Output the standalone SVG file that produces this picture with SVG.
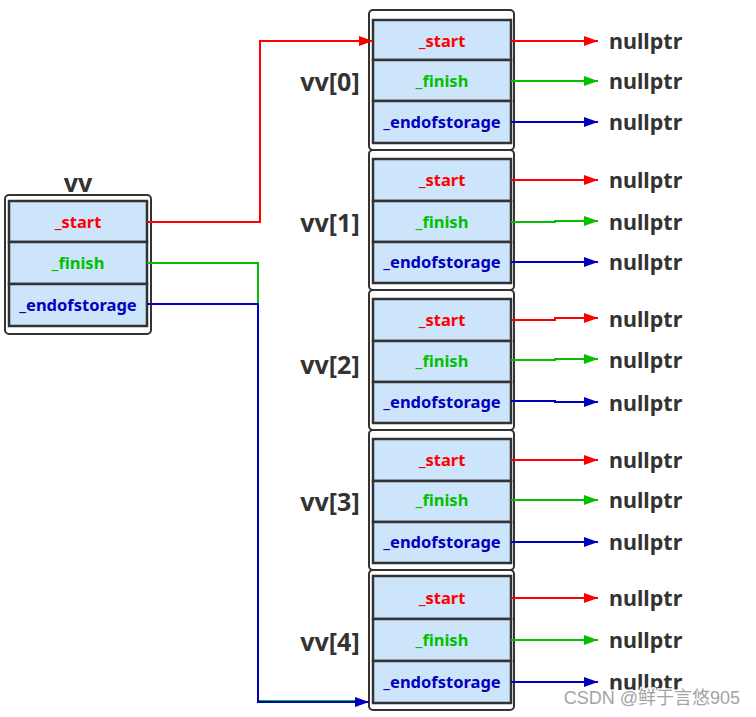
<svg xmlns="http://www.w3.org/2000/svg" width="756" height="717" viewBox="0 0 756 717">
<defs>
<style>
.outer{fill:#fff;stroke:#333;stroke-width:2}
.cell{fill:#cce5fb;stroke:#333;stroke-width:2.5}
.f{font-family:"Noto Sans","Open Sans","DejaVu Sans",sans-serif;font-weight:bold;text-anchor:middle}
.s{fill:#ff0000;font-size:16.5px}
.g{fill:#00c000;font-size:16.5px}
.b{fill:#0000c0;font-size:16.5px}
.lbl{fill:#333;font-size:25px}
.np{fill:#333;font-size:21.5px;text-anchor:start}
.r{stroke:#ff0000;stroke-width:2;fill:none}
.gr{stroke:#00c000;stroke-width:2;fill:none}
.bl{stroke:#0000c0;stroke-width:2;fill:none}
</style>
<marker id="ar" viewBox="0 0 14 10" refX="14" refY="5" markerWidth="14" markerHeight="10" markerUnits="userSpaceOnUse" orient="auto"><path d="M0,0 L14,5 L0,10 Z" fill="#ff0000"/></marker>
<marker id="ag" viewBox="0 0 14 10" refX="14" refY="5" markerWidth="14" markerHeight="10" markerUnits="userSpaceOnUse" orient="auto"><path d="M0,0 L14,5 L0,10 Z" fill="#00c000"/></marker>
<marker id="ab" viewBox="0 0 14 10" refX="14" refY="5" markerWidth="14" markerHeight="10" markerUnits="userSpaceOnUse" orient="auto"><path d="M0,0 L14,5 L0,10 Z" fill="#0000c0"/></marker>
</defs>
<rect width="756" height="717" fill="#fff"/>

<g id="vv">
<text class="f lbl" x="78" y="192">vv</text>
<rect class="outer" x="5" y="195" width="146" height="139" rx="4"/>
<rect class="cell" x="9" y="201" width="138" height="41"/>
<rect class="cell" x="9" y="242" width="138" height="42"/>
<rect class="cell" x="9" y="284" width="138" height="42"/>
<text class="f s" x="78" y="228">_start</text>
<text class="f g" x="78" y="269">_finish</text>
<text class="f b" x="78" y="311">_endofstorage</text>
</g>

<g id="vv0">
<rect class="outer" x="369" y="10" width="145" height="140" rx="4"/>
<rect class="cell" x="373" y="20" width="138" height="40"/>
<rect class="cell" x="373" y="60" width="138" height="41"/>
<rect class="cell" x="373" y="101" width="138" height="42"/>
<text class="f s" x="442" y="47">_start</text>
<text class="f g" x="442" y="87">_finish</text>
<text class="f b" x="442" y="128">_endofstorage</text>
<text class="f lbl" x="330" y="91">vv[0]</text>
</g>

<g id="vv1">
<rect class="outer" x="369" y="150" width="145" height="140" rx="4"/>
<rect class="cell" x="373" y="159" width="138" height="42"/>
<rect class="cell" x="373" y="201" width="138" height="41"/>
<rect class="cell" x="373" y="242" width="138" height="41"/>
<text class="f s" x="442" y="186">_start</text>
<text class="f g" x="442" y="228">_finish</text>
<text class="f b" x="442" y="268">_endofstorage</text>
<text class="f lbl" x="330" y="232">vv[1]</text>
</g>

<g id="vv2">
<rect class="outer" x="369" y="290" width="145" height="140" rx="4"/>
<rect class="cell" x="373" y="299" width="138" height="42"/>
<rect class="cell" x="373" y="341" width="138" height="41"/>
<rect class="cell" x="373" y="382" width="138" height="41"/>
<text class="f s" x="442" y="326">_start</text>
<text class="f g" x="442" y="367">_finish</text>
<text class="f b" x="442" y="408">_endofstorage</text>
<text class="f lbl" x="330" y="374">vv[2]</text>
</g>

<g id="vv3">
<rect class="outer" x="369" y="430" width="145" height="140" rx="4"/>
<rect class="cell" x="373" y="439" width="138" height="42"/>
<rect class="cell" x="373" y="481" width="138" height="41"/>
<rect class="cell" x="373" y="522" width="138" height="41"/>
<text class="f s" x="442" y="466">_start</text>
<text class="f g" x="442" y="506">_finish</text>
<text class="f b" x="442" y="548">_endofstorage</text>
<text class="f lbl" x="330" y="511">vv[3]</text>
</g>

<g id="vv4">
<rect class="outer" x="369" y="570" width="145" height="140" rx="4"/>
<rect class="cell" x="373" y="576" width="138" height="43"/>
<rect class="cell" x="373" y="619" width="138" height="42"/>
<rect class="cell" x="373" y="661" width="138" height="42"/>
<text class="f s" x="442" y="604">_start</text>
<text class="f g" x="442" y="646">_finish</text>
<text class="f b" x="442" y="688">_endofstorage</text>
<text class="f lbl" x="330" y="651">vv[4]</text>
</g>

<g id="nulls">
<text class="f np" x="609" y="49">nullptr</text>
<text class="f np" x="609" y="89">nullptr</text>
<text class="f np" x="609" y="130">nullptr</text>
<text class="f np" x="609" y="188">nullptr</text>
<text class="f np" x="609" y="230">nullptr</text>
<text class="f np" x="609" y="270">nullptr</text>
<text class="f np" x="609" y="327">nullptr</text>
<text class="f np" x="609" y="368">nullptr</text>
<text class="f np" x="609" y="411">nullptr</text>
<text class="f np" x="609" y="468">nullptr</text>
<text class="f np" x="609" y="508">nullptr</text>
<text class="f np" x="609" y="550">nullptr</text>
<text class="f np" x="609" y="606">nullptr</text>
<text class="f np" x="609" y="648">nullptr</text>
<text class="f np" x="609" y="690">nullptr</text>
</g>

<g id="connectors">
<polyline class="r" points="147,222 260,222 260,41 373,41" marker-end="url(#ar)"/>
<polyline class="gr" points="147,263 258,263 258,701 360,701"/>
<polyline class="bl" points="147,304 258,304 258,702 369,702" marker-end="url(#ab)"/>

<line class="r" x1="511" y1="41" x2="598" y2="41" marker-end="url(#ar)"/>
<line class="gr" x1="511" y1="81" x2="598" y2="81" marker-end="url(#ag)"/>
<line class="bl" x1="511" y1="122" x2="598" y2="122" marker-end="url(#ab)"/>

<line class="r" x1="511" y1="180" x2="598" y2="180" marker-end="url(#ar)"/>
<polyline class="gr" points="511,222 555,222 555,221 598,221" marker-end="url(#ag)"/>
<line class="bl" x1="511" y1="262" x2="598" y2="262" marker-end="url(#ab)"/>

<polyline class="r" points="511,320 555,320 555,318 598,318" marker-end="url(#ar)"/>
<polyline class="gr" points="511,360 555,360 555,359 598,359" marker-end="url(#ag)"/>
<polyline class="bl" points="511,401 555,401 555,402 598,402" marker-end="url(#ab)"/>

<line class="r" x1="511" y1="460" x2="598" y2="460" marker-end="url(#ar)"/>
<line class="gr" x1="511" y1="500" x2="598" y2="500" marker-end="url(#ag)"/>
<line class="bl" x1="511" y1="542" x2="598" y2="542" marker-end="url(#ab)"/>

<line class="r" x1="511" y1="598" x2="598" y2="598" marker-end="url(#ar)"/>
<line class="gr" x1="511" y1="640" x2="598" y2="640" marker-end="url(#ag)"/>
<line class="bl" x1="511" y1="682" x2="598" y2="682" marker-end="url(#ab)"/>
</g>

<text x="740" y="704" font-family="Liberation Sans,'Noto Sans CJK SC',sans-serif" font-size="18" fill="#a0a0a0" text-anchor="end" stroke="#fff" stroke-width="3" paint-order="stroke" opacity="0.95">CSDN @鲜于言悠905</text>
</svg>
